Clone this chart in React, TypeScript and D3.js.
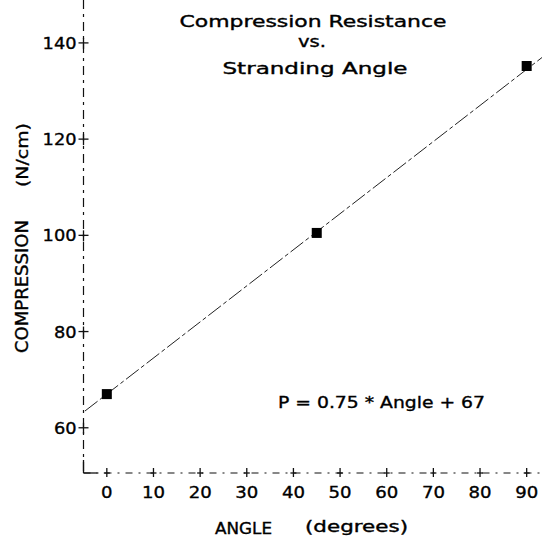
import React from "react";
import * as d3 from "d3";

const angles = [0, 45, 90];
const compression = [67, 100.5, 135.2];
const fitSlope = 0.75;
const fitIntercept = 67;
const xTicks = [0, 10, 20, 30, 40, 50, 60, 70, 80, 90];
const yTicks = [60, 80, 100, 120, 140];
const titleLines = ["Compression Resistance", "vs.", "Stranding Angle"];
const equationText = "P = 0.75 * Angle + 67";

const W = 542;
const H = 540;
const FONT = "'DejaVu Sans', Verdana, sans-serif";

export default function App() {
  const x = d3.scaleLinear().domain([-5, 95]).range([83.5, 550]);
  const y = d3.scaleLinear().domain([50.6, 150]).range([473, -5.2]);
  const axX = x(-5);
  const axY = y(50.6);

  const fitLine = d3
    .line<number>()
    .x((a) => x(a))
    .y((a) => y(fitSlope * a + fitIntercept));

  const fitX = [-4.7, 95];
  const txt = { stroke: "#000", strokeWidth: 0.35, fill: "#000" };

  return (
    <svg
      width={W}
      height={H}
      style={{ position: "absolute", left: 0, top: 0, background: "#fff" }}
      fontFamily={FONT}
    >
      <rect x={0} y={0} width={W} height={H} fill="#fff" />
      {/* title */}
      <text {...txt} x={313} y={27} fontSize={15} textAnchor="middle" textLength={267} lengthAdjust="spacingAndGlyphs">
        {titleLines[0]}
      </text>
      <text {...txt} x={312} y={47} fontSize={15} textAnchor="middle" textLength={28} lengthAdjust="spacingAndGlyphs">
        {titleLines[1]}
      </text>
      <text {...txt} x={315} y={74} fontSize={15} textAnchor="middle" textLength={185} lengthAdjust="spacingAndGlyphs">
        {titleLines[2]}
      </text>

      {/* y axis */}
      <line x1={axX} x2={axX} y1={0} y2={axY} stroke="#111" strokeWidth={1.2} strokeDasharray="9,5,3,5" />
      <line x1={axX} x2={axX} y1={axY - 13} y2={axY} stroke="#111" strokeWidth={1.3} />
      {/* x axis */}
      <line x1={axX} x2={W} y1={axY} y2={axY} stroke="#111" strokeWidth={1.2} strokeDasharray="7,6,2,6" />
      <line x1={axX} x2={axX + 14} y1={axY} y2={axY} stroke="#111" strokeWidth={1.3} />

      {yTicks.map((t) => (
        <g key={"y" + t}>
          <line x1={axX - 5} x2={axX + 5} y1={y(t)} y2={y(t)} stroke="#111" strokeWidth={1.3} />
          <line x1={axX} x2={axX} y1={y(t) - 5} y2={y(t) + 6} stroke="#111" strokeWidth={1.3} />
          <text
            {...txt}
            x={axX - 7}
            y={y(t) + 6}
            fontSize={16}
            textAnchor="end"
            textLength={String(t).length * 11.3}
            lengthAdjust="spacingAndGlyphs"
          >
            {t}
          </text>
        </g>
      ))}

      {xTicks.map((t) => (
        <g key={"x" + t}>
          <line x1={x(t)} x2={x(t)} y1={axY - 5} y2={axY + 4} stroke="#111" strokeWidth={1.3} />
          <line x1={x(t) - 3} x2={x(t) + 3} y1={axY} y2={axY} stroke="#111" strokeWidth={1.3} />
          <text
            {...txt}
            x={x(t)}
            y={498}
            fontSize={16}
            textAnchor="middle"
            textLength={String(t).length * 11.5}
            lengthAdjust="spacingAndGlyphs"
          >
            {t}
          </text>
        </g>
      ))}

      {/* axis titles */}
      <text {...txt} x={215} y={534} fontSize={15} textLength={57} lengthAdjust="spacingAndGlyphs">
        ANGLE
      </text>
      <text {...txt} x={305} y={532} fontSize={15} textLength={103} lengthAdjust="spacingAndGlyphs">
        (degrees)
      </text>
      <text
        {...txt}
        transform={`translate(28,286.5) rotate(-90)`}
        fontSize={17}
        textAnchor="middle"
        textLength={133}
        lengthAdjust="spacingAndGlyphs"
      >
        COMPRESSION
      </text>
      <text
        {...txt}
        transform={`translate(28,155) rotate(-90)`}
        fontSize={16}
        textAnchor="middle"
        textLength={64}
        lengthAdjust="spacingAndGlyphs"
      >
        (N/cm)
      </text>

      {/* fit line */}
      <path
        d={fitLine(fitX) || ""}
        fill="none"
        stroke="#222"
        strokeWidth={1}
        strokeDasharray="16,3,4,3"
      />

      {/* data points */}
      {angles.map((a, i) => (
        <rect
          key={"p" + i}
          x={x(a) - 5}
          y={y(compression[i]) - 5}
          width={10}
          height={10}
          fill="#000"
        />
      ))}

      {/* equation */}
      <text {...txt} x={278} y={408} fontSize={16} textLength={207} lengthAdjust="spacingAndGlyphs">
        {equationText}
      </text>
    </svg>
  );
}
